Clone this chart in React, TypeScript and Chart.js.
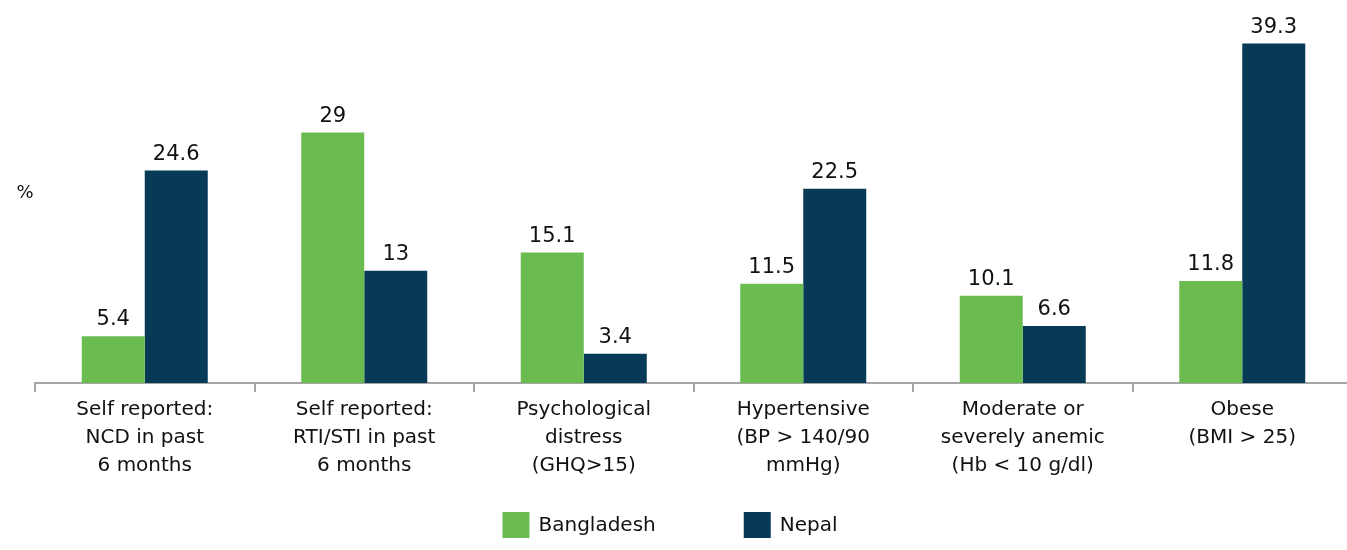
import React, { useEffect, useRef } from "react";
import { Chart, registerables } from "chart.js";

Chart.register(...registerables);

const categories: string[][] = [
  ["Self reported:", "NCD in past", "6 months"],
  ["Self reported:", "RTI/STI in past", "6 months"],
  ["Psychological", "distress", "(GHQ>15)"],
  ["Hypertensive", "(BP > 140/90", "mmHg)"],
  ["Moderate or", "severely anemic", "(Hb < 10 g/dl)"],
  ["Obese", "(BMI > 25)"],
];
const bangladesh: number[] = [5.4, 29, 15.1, 11.5, 10.1, 11.8];
const nepal: number[] = [24.6, 13, 3.4, 22.5, 6.6, 39.3];
const yAxisLabel = "%";

const FONT = "'DejaVu Sans', sans-serif";

const valueLabels = {
  id: "valueLabels",
  afterDatasetsDraw(chart: any) {
    const ctx = chart.ctx;
    ctx.save();
    ctx.font = `21px ${FONT}`;
    ctx.fillStyle = "#111111";
    ctx.textAlign = "center";
    ctx.textBaseline = "alphabetic";
    chart.data.datasets.forEach((ds: any, di: number) => {
      const meta = chart.getDatasetMeta(di);
      meta.data.forEach((el: any, i: number) => {
        ctx.fillText(String(ds.data[i]), el.x, el.y - 11);
      });
    });
    ctx.restore();
  },
};

const axisTitle = {
  id: "axisTitle",
  afterDraw(chart: any) {
    const ctx = chart.ctx;
    const a = chart.chartArea;
    ctx.save();
    ctx.font = `18px ${FONT}`;
    ctx.fillStyle = "#111111";
    ctx.textAlign = "center";
    ctx.textBaseline = "middle";
    ctx.fillText(yAxisLabel, a.left - 10, (a.top + a.bottom) / 2);
    ctx.restore();
  },
};

const bottomLegend = {
  id: "bottomLegend",
  afterDraw(chart: any) {
    const ctx = chart.ctx;
    const boxW = 27;
    const boxH = 26;
    const textGap = 9;
    const itemGap = 88;
    ctx.save();
    ctx.font = `20px ${FONT}`;
    ctx.textBaseline = "middle";
    ctx.textAlign = "left";
    const items = chart.data.datasets.map((ds: any) => ({
      text: ds.label,
      color: ds.backgroundColor,
      w: boxW + textGap + ctx.measureText(ds.label).width,
    }));
    const total = items.reduce((s: number, it: any) => s + it.w, 0) + itemGap * (items.length - 1);
    let x = chart.width / 2 - 10 - total / 2;
    const top = chart.height - 38;
    items.forEach((it: any) => {
      ctx.fillStyle = it.color;
      ctx.fillRect(x, top, boxW, boxH);
      ctx.fillStyle = "#111111";
      ctx.fillText(it.text, x + boxW + textGap, top + boxH / 2 + 1);
      x += it.w + itemGap;
    });
    ctx.restore();
  },
};

export default function App() {
  const ref = useRef<HTMLCanvasElement | null>(null);
  useEffect(() => {
    if (!ref.current) return;
    const chart = new Chart(ref.current, {
      type: "bar",
      data: {
        labels: categories,
        datasets: [
          { label: "Bangladesh", data: bangladesh, backgroundColor: "#6ABB50" },
          { label: "Nepal", data: nepal, backgroundColor: "#063A57" },
        ],
      },
      options: {
        animation: false,
        responsive: false,
        maintainAspectRatio: false,
        layout: { padding: { left: 35, right: 8, top: 3, bottom: 47 } },
        datasets: { bar: { barPercentage: 1, categoryPercentage: 0.574 } },
        scales: {
          x: {
            offset: true,
            grid: {
              offset: true,
              drawOnChartArea: false,
              drawTicks: true,
              tickLength: 9,
              color: "#A6A6A6",
              lineWidth: 2,
            },
            border: { display: true, color: "#A6A6A6", width: 2 },
            ticks: {
              color: "#111111",
              font: { family: FONT, size: 20, lineHeight: 1.4 },
              maxRotation: 0,
              autoSkip: false,
              padding: 4,
            },
            afterFit: (axis: any) => {
              axis.height = 120;
            },
          },
          y: { display: false, min: 0, max: 44 },
        },
        plugins: {
          legend: { display: false },
          tooltip: { enabled: false },
        },
      },
      plugins: [valueLabels, axisTitle, bottomLegend],
    });
    return () => chart.destroy();
  }, []);
  return (
    <div style={{ position: "fixed", left: 0, top: 0, width: 1347, height: 550, overflow: "hidden", background: "#fff" }}>
      <canvas ref={ref} width={1360} height={550} style={{ display: "block", width: 1360, height: 550 }} />
    </div>
  );
}
